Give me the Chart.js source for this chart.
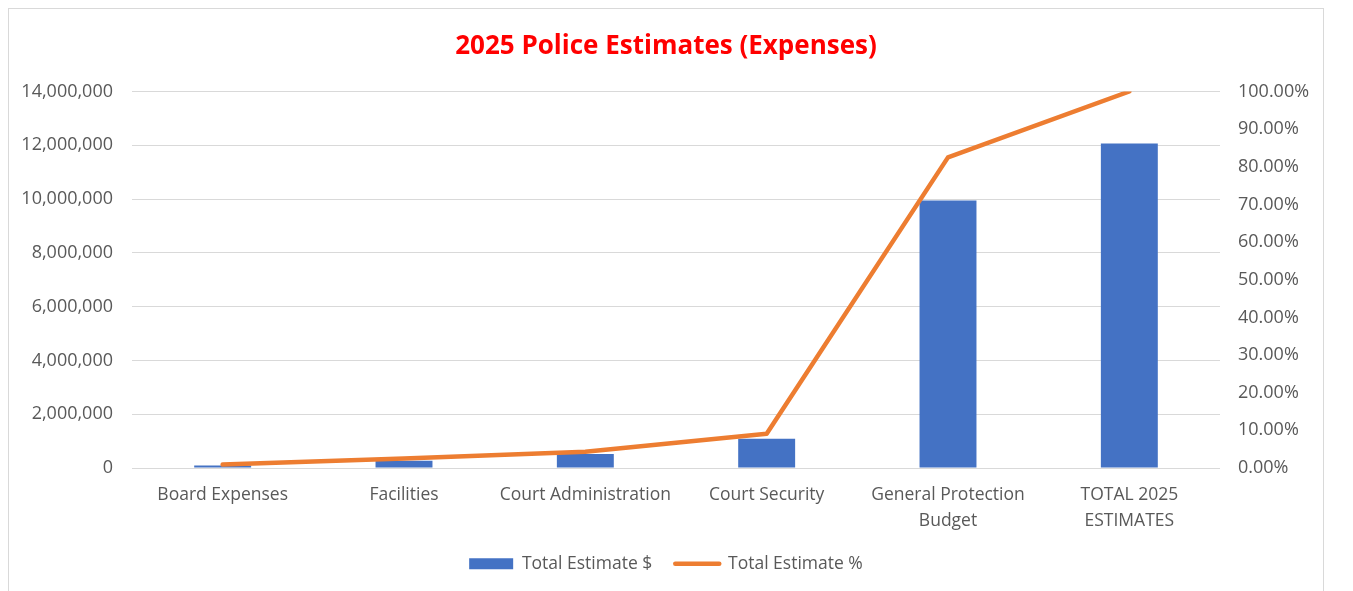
<!DOCTYPE html>
<html>
<head>
<meta charset="utf-8">
<title>2025 Police Estimates (Expenses)</title>
<script src="https://cdn.jsdelivr.net/npm/chart.js@4.4.1/dist/chart.umd.min.js"></script>
<style>
  html, body { margin: 0; padding: 0; background: #fff; overflow: hidden; }
  #frame { position: absolute; left: 8px; top: 8px; width: 1314px; height: 620px; border: 1px solid #d9d9d9; }
  #chart { display: block; }
</style>
</head>
<body>
<div id="frame"><canvas id="chart" width="1314" height="600"></canvas></div>
<script>
// Expense lines and their share of the total
const categories = [
    'Board Expenses',
    'Facilities',
    'Court Administration',
    'Court Security',
    ['General Protection', 'Budget'],
    ['TOTAL 2025', 'ESTIMATES']
];
const totalEstimate = [93000, 270000, 520000, 1090000, 9950000, 12070000];
const totalPercent = [0.9, 2.5, 4.3, 9.1, 82.5, 100];

const dollarTicks = [0, 2000000, 4000000, 6000000, 8000000, 10000000, 12000000, 14000000];
const percentTicks = [0, 10, 20, 30, 40, 50, 60, 70, 80, 90, 100];

const FONT = 'Open Sans, Noto Sans, sans-serif';
const GREY_TEXT = '#595959';
const GRID = '#d9d9d9';

const fixedTicks = list => scale => { scale.ticks = list.map(v => ({ value: v })); };

new Chart(document.getElementById('chart'), {
    data: {
        labels: categories,
        datasets: [
            {
                type: 'bar',
                label: 'Total Estimate $',
                data: totalEstimate,
                backgroundColor: '#4472C4',
                categoryPercentage: 1,
                barPercentage: 0.314,
                yAxisID: 'y',
                order: 1
            },
            {
                type: 'line',
                label: 'Total Estimate %',
                data: totalPercent,
                borderColor: '#ED7D31',
                backgroundColor: '#ED7D31',
                borderWidth: 4.5,
                borderCapStyle: 'round',
                borderJoinStyle: 'round',
                pointRadius: 0,
                tension: 0,
                yAxisID: 'y1',
                order: 0
            }
        ]
    },
    options: {
        responsive: false,
        animation: false,
        events: [],
        layout: { padding: { top: 0, bottom: 26.5, left: 0, right: 0 } },
        plugins: {
            title: {
                display: true,
                text: '2025 Police Estimates (Expenses)',
                color: '#ff0000',
                font: { family: FONT, size: 26, weight: 'bold' },
                padding: { top: 22, bottom: 29.3 }
            },
            legend: {
                position: 'bottom',
                labels: {
                    color: GREY_TEXT,
                    font: { family: FONT, size: 17.5 },
                    usePointStyle: true,
                    pointStyleWidth: 44,
                    boxHeight: 11,
                    padding: 23,
                    sort: (a, b) => a.datasetIndex - b.datasetIndex,
                    generateLabels: chart => chart.data.datasets.map((ds, i) => ({
                        text: ds.label,
                        datasetIndex: i,
                        fillStyle: ds.type === 'line' ? ds.borderColor : ds.backgroundColor,
                        strokeStyle: ds.type === 'line' ? ds.borderColor : ds.backgroundColor,
                        lineWidth: ds.type === 'line' ? 4.5 : 0,
                        lineCap: 'round',
                        pointStyle: ds.type === 'line' ? 'line' : 'rect',
                        fontColor: GREY_TEXT,
                        hidden: false
                    }))
                }
            },
            tooltip: { enabled: false }
        },
        scales: {
            x: {
                grid: { display: false },
                border: { display: false },
                ticks: {
                    color: GREY_TEXT,
                    font: { family: FONT, size: 17.5, lineHeight: 1.43 },
                    padding: 7,
                    maxRotation: 0,
                    autoSkip: false
                },
                afterFit: s => { s.height = 64; }
            },
            y: {
                position: 'left',
                min: 0,
                max: 14000000,
                afterBuildTicks: fixedTicks(dollarTicks),
                grid: { color: GRID, lineWidth: 1, drawTicks: false },
                border: { display: false },
                ticks: {
                    color: GREY_TEXT,
                    font: { family: FONT, size: 18 },
                    padding: 19,
                    callback: v => v.toLocaleString('en-US')
                },
                afterFit: s => { s.width = 123; }
            },
            y1: {
                position: 'right',
                min: 0,
                max: 100,
                afterBuildTicks: fixedTicks(percentTicks),
                grid: { display: false, drawTicks: false },
                border: { display: false },
                ticks: {
                    color: GREY_TEXT,
                    font: { family: FONT, size: 18 },
                    padding: 18,
                    callback: v => v.toFixed(2) + '%'
                },
                afterFit: s => { s.width = 103; }
            }
        }
    }
});
</script>
</body>
</html>
